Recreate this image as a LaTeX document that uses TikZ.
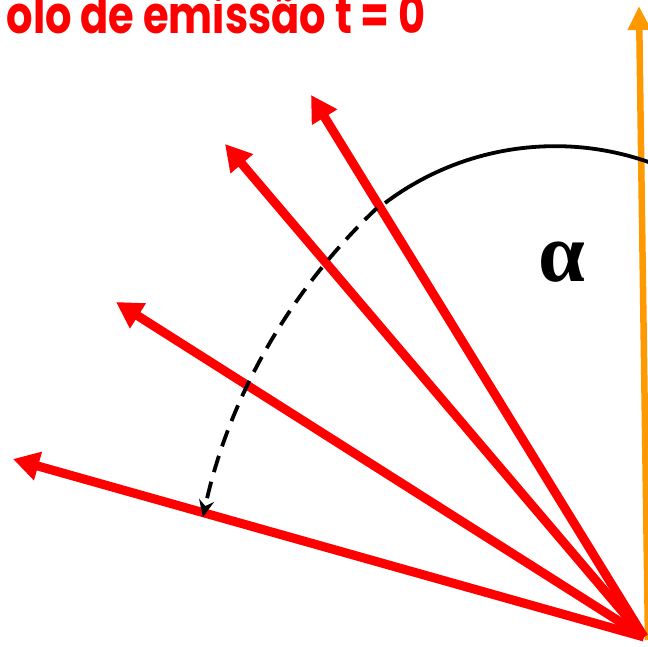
\documentclass[tikz,border=0pt]{standalone}
\usepackage{fontspec}
\newfontfamily\titlefont{Poppins}
\newfontfamily\alphafont{Liberation Serif}
\usetikzlibrary{arrows.meta}
\definecolor{rayred}{RGB}{255,0,0}
\definecolor{axisorange}{RGB}{255,153,0}
\tikzset{
  ray/.style={draw=rayred, line width=9pt, -{Triangle[length=26pt,width=28pt]}},
  axisarrow/.style={draw=axisorange, line width=6.5pt, -{Triangle[length=24pt,width=22pt]}},
  anglearc/.style={draw=black, line width=3.8pt},
  dasharc/.style={draw=black, line width=3.8pt, dash pattern=on 17pt off 10pt, -{Stealth[length=17pt,width=15pt]}},
}
\begin{document}
\begin{tikzpicture}[x=1pt,y=-1pt]
\useasboundingbox (0,0) rectangle (648,646);
\coordinate (O) at (644,637);
\coordinate (Oa) at (648,640);
\coordinate (ta) at (639,6);
\coordinate (t1) at (311,95);
\coordinate (t2) at (225,144);
\coordinate (t3) at (116,302);
\coordinate (t4) at (13,459);
\coordinate (arcstart) at (385,203);
\coordinate (dashstart) at (377,208);
\draw[axisarrow] (Oa) -- (ta);
\draw[ray] (O) -- (t1);
\draw[ray] (O) -- (t2);
\draw[ray] (O) -- (t3);
\draw[ray] (O) -- (t4);
\draw[anglearc] (arcstart) arc[start angle=-126.95, end angle=-66, radius=283];
\draw[dasharc] (dashstart) arc[start angle=-133.35, end angle=-167.9, radius=597.5];
\node[font=\alphafont\bfseries\fontsize{84}{84}\selectfont, inner sep=0pt] (alpha) at (562,262) {α};
\node[font=\titlefont\bfseries\fontsize{52}{52}\selectfont, text=rayred, anchor=base east, inner sep=0pt, xscale=0.8] (title) at (426,33) {olo de emissão t = 0};
\end{tikzpicture}
\end{document}
